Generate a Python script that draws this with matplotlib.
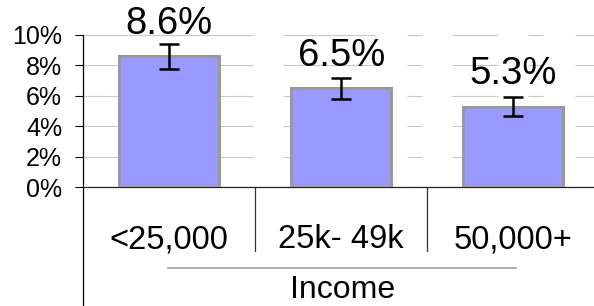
import matplotlib
matplotlib.use("Agg")
import matplotlib.pyplot as plt
from matplotlib.lines import Line2D

plt.rcParams['font.family'] = ['Liberation Sans', 'DejaVu Sans']
plt.rcParams['lines.scale_dashes'] = False

categories = ['<25,000', '25k- 49k', '50,000+']
values = [8.6, 6.5, 5.3]
errors = [0.8, 0.7, 0.6]
yticks = [0, 2, 4, 6, 8, 10]
group_label = 'Income'

W, H = 594, 306
fig = plt.figure(figsize=(W / 100, H / 100), dpi=100)
left_px, right_px, top_px, bottom_px = 83.3, 599.0, 35.0, 187.3
ax = fig.add_axes([left_px / W, (H - bottom_px) / H,
                   (right_px - left_px) / W, (bottom_px - top_px) / H])

x = list(range(len(categories)))
ax.bar(x, values, width=0.58, color='#9999ff', edgecolor='#999999',
       linewidth=2.2, zorder=3)
ax.errorbar(x, values, yerr=errors, fmt='none', ecolor='black',
            elinewidth=1.8, capsize=7.5, capthick=1.8, zorder=4)

for xi, v in zip(x, values):
    ax.annotate(f'{v}%', (xi, v), xytext=(0, 16), textcoords='offset points',
                ha='center', va='baseline', fontsize=27.5, color='black',
                annotation_clip=False, zorder=5)

ax.set_xlim(-0.5, len(categories) - 0.5)
ax.set_ylim(0, 10)
ax.set_yticks(yticks)
ax.set_yticklabels([f'{t}%' for t in yticks])
ax.tick_params(axis='y', length=5.8, width=0.8, pad=9.4, labelsize=18,
               colors='black', direction='out')
ax.set_xticks([])

# gridlines with the broken pattern seen in the reference
px = 1 / 1.3889
dash = (0, (170 * px, 30 * px, 92 * px, 32 * px, 15 * px, 30 * px,
            46 * px, 30 * px, 15 * px, 32 * px, 200 * px, 1))
ax.yaxis.grid(True, color='#c8c8c8', linewidth=0.8, linestyle=dash, zorder=0)
ax.set_axisbelow(True)

for s in ['top', 'right']:
    ax.spines[s].set_visible(False)
ax.spines['bottom'].set_color('#222222')
ax.spines['bottom'].set_linewidth(0.9)
ax.spines['left'].set_color('black')
ax.spines['left'].set_linewidth(0.9)

trans = ax.get_xaxis_transform()
ax_h = bottom_px - top_px
# extend y axis line to bottom of figure
ax.add_line(Line2D([-0.5, -0.5], [0, -(H - bottom_px) / ax_h], transform=trans,
                   color='black', linewidth=0.9, clip_on=False))
# category dividers
for i in range(len(categories)):
    xb = i + 0.5
    ax.add_line(Line2D([xb, xb], [0, -(250.7 - bottom_px) / ax_h], transform=trans,
                       color='#333333', linewidth=0.9, clip_on=False))
# category labels
for xi, c in zip(x, categories):
    ax.text(xi, -(248.3 - bottom_px) / ax_h, c, transform=trans, ha='center',
            va='baseline', fontsize=23.5, color='black', clip_on=False)
# group underline and label
cw = (right_px - left_px) / len(categories)
x0 = (168.3 - left_px) / cw - 0.5
x1 = (516.0 - left_px) / cw - 0.5
ax.add_line(Line2D([x0, x1], [-(268.3 - bottom_px) / ax_h] * 2, transform=trans,
                   color='#a8a8a8', linewidth=1.3, clip_on=False))
ax.text((x0 + x1) / 2, -(298.5 - bottom_px) / ax_h, group_label, transform=trans,
        ha='center', va='baseline', fontsize=23, color='black', clip_on=False)

fig.savefig('out.png', dpi=100)
